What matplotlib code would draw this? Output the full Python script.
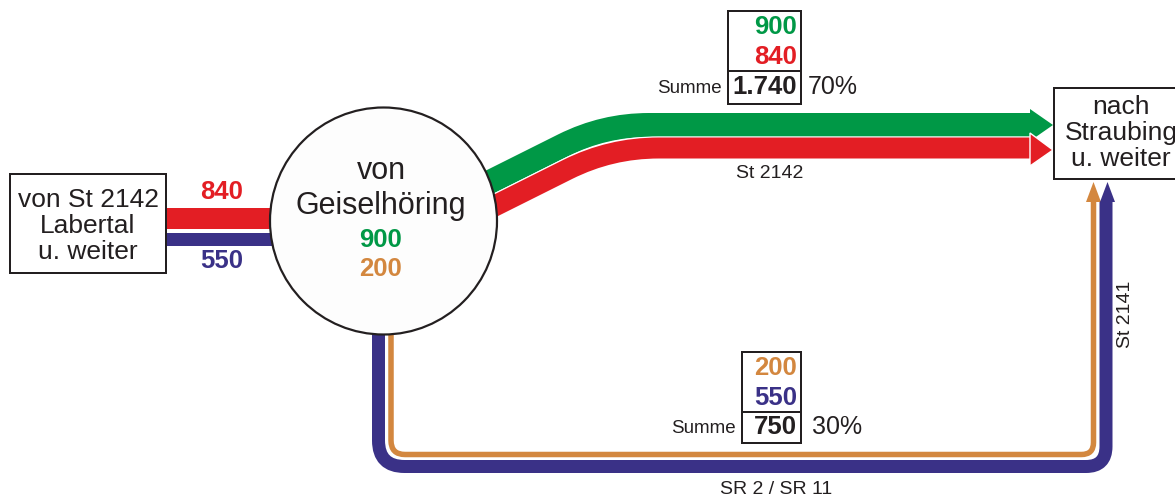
import matplotlib.pyplot as plt
import matplotlib
import numpy as np
from matplotlib.path import Path
from matplotlib.patches import PathPatch, Polygon, Rectangle, Circle
import matplotlib.patheffects as pe

matplotlib.rcParams['font.family'] = ['Liberation Sans', 'DejaVu Sans']

# traffic volumes
labertal_flows = [840, 550]        # red, blue  (von St 2142 Labertal)
geiselhoering_flows = [900, 200]   # green, orange (von Geiselhöring)
st2142_flows = [900, 840]          # green, red   -> St 2142
sr_flows = [200, 550]              # orange, blue -> SR 2 / SR 11
node_labels = ['von St 2142\nLabertal\nu. weiter', 'von', 'Geiselhöring', 'nach\nStraubing\nu. weiter']
road_labels = ['St 2142', 'SR 2 / SR 11', 'St 2141']

GREEN = '#009846'
RED = '#e31e24'
BLUE = '#3a3187'
ORANGE = '#d3873f'
INK = '#231f20'
PX = 72 / 100  # points per pixel at dpi 100


def fmt(v):
    return f'{v:,}'.replace(',', '.')


def rounded_path(points, radii):
    pts = [np.array(p, dtype=float) for p in points]
    verts, codes = [pts[0]], [Path.MOVETO]
    for i in range(1, len(pts) - 1):
        a, b, c = pts[i - 1], pts[i], pts[i + 1]
        da = (a - b) / np.hypot(*(a - b))
        dc = (c - b) / np.hypot(*(c - b))
        r = radii[i - 1]
        verts += [b + da * r, b, b + dc * r]
        codes += [Path.LINETO, Path.CURVE3, Path.CURVE3]
    verts.append(pts[-1])
    codes.append(Path.LINETO)
    return Path(verts, codes)


def band(ax, points, radii, width, color, z, gap=0):
    patch = PathPatch(rounded_path(points, radii), fill=False, edgecolor=color,
                      linewidth=width * PX, capstyle='butt', joinstyle='round', zorder=z)
    if gap:
        patch.set_path_effects([pe.Stroke(linewidth=(width + 2 * gap) * PX, foreground='white'), pe.Normal()])
    ax.add_patch(patch)


def head(ax, tip, base, half, color, z):
    tx, ty = tip
    bx, by = base
    if tx != bx:
        pts = [(bx, by - half), (tx, ty), (bx, by + half)]
    else:
        pts = [(bx - half, by), (tx, ty), (bx + half, by)]
    ax.add_patch(Polygon(pts, closed=True, facecolor=color, edgecolor='none', zorder=z))


fig = plt.figure(figsize=(11.75, 4.97), dpi=100)
ax = fig.add_axes([0, 0, 1, 1])
ax.set_xlim(0, 1175)
ax.set_ylim(497, 0)
ax.axis('off')

# left feeder bands
band(ax, [(160, 217.5), (310, 217.5)], [], 21, RED, 2)
band(ax, [(160, 238.5), (310, 238.5)], [], 13, BLUE, 2)

# St 2142 towards Straubing
band(ax, [(430, 211.9), (603.8, 125), (1031, 125)], [45], 24, GREEN, 2)
band(ax, [(430, 238.3), (610.6, 148), (1031, 148)], [48], 21, RED, 3, gap=1.2)
head(ax, (1053, 125), (1030, 125), 16, GREEN, 3)
ax.add_patch(Polygon([(1030, 133), (1053, 150), (1030, 166)], closed=True,
                     facecolor=RED, edgecolor='white', linewidth=1.0, zorder=4))

# SR 2 / SR 11 loop
band(ax, [(378.5, 300), (378.5, 466.5), (1106, 466.5), (1106, 201)], [26, 20], 13, BLUE, 2)
band(ax, [(391, 300), (391, 454.5), (1093.5, 454.5), (1093.5, 201)], [14, 12], 5.5, ORANGE, 2)
head(ax, (1093.5, 182), (1093.5, 202), 7.5, ORANGE, 3)
head(ax, (1107.5, 182), (1107.5, 202), 7.5, BLUE, 3)

# nodes
ax.add_patch(Rectangle((10, 174), 156, 99, facecolor='white', edgecolor=INK, linewidth=2 * PX, zorder=5))
ax.text(88, 226, node_labels[0], ha='center', va='center', fontsize=19, color=INK,
        linespacing=1.1, zorder=6)
ax.add_patch(Rectangle((1054, 88), 150, 91, facecolor='white', edgecolor=INK, linewidth=2 * PX, zorder=5))
ax.text(1121, 133, node_labels[3], ha='center', va='center', fontsize=19, color=INK,
        linespacing=1.08, zorder=6)
ax.add_patch(Circle((383.5, 221), 113.5, facecolor='#fdfdfd', edgecolor=INK, linewidth=2.2 * PX, zorder=5))
ax.text(381, 171, node_labels[1], ha='center', va='center', fontsize=22, color=INK, zorder=6)
ax.text(381, 206, node_labels[2], ha='center', va='center', fontsize=22, color=INK, zorder=6)
ax.text(380, 240, fmt(geiselhoering_flows[0]), ha='center', va='center', fontsize=18.5,
        fontweight='bold', color=GREEN, zorder=6)
ax.text(380, 269, fmt(geiselhoering_flows[1]), ha='center', va='center', fontsize=18.5,
        fontweight='bold', color=ORANGE, zorder=6)

# left flow numbers
ax.text(222, 192, fmt(labertal_flows[0]), ha='center', va='center', fontsize=18.5, fontweight='bold', color=RED)
ax.text(222, 261, fmt(labertal_flows[1]), ha='center', va='center', fontsize=18.5, fontweight='bold', color=BLUE)

total = sum(st2142_flows) + sum(sr_flows)


def summary(x0, x1, y_top, y_div, y_bot, flows, colors, pct_x):
    ax.add_patch(Rectangle((x0, y_top), x1 - x0, y_bot - y_top, fill=False, edgecolor=INK,
                           linewidth=2 * PX, zorder=5))
    ax.plot([x0, x1], [y_div, y_div], color=INK, linewidth=2 * PX, zorder=5)
    row_h = (y_div - y_top) / 2
    for k, (v, c) in enumerate(zip(flows, colors)):
        ax.text(x1 - 4, y_top + row_h * (k + 0.5) + 1, fmt(v), ha='right', va='center',
                fontsize=18.5, fontweight='bold', color=c, zorder=6)
    s = sum(flows)
    ym = (y_div + y_bot) / 2
    ax.text(x1 - 4, ym, fmt(s), ha='right', va='center', fontsize=18.5, fontweight='bold', color=INK, zorder=6)
    ax.text(x0 - 6, ym + 1, 'Summe', ha='right', va='center', fontsize=13.5, color=INK, zorder=6)
    ax.text(pct_x, ym, f'{round(100 * s / total)}%', ha='left', va='center', fontsize=18, color=INK, zorder=6)


summary(728, 801, 11, 71, 104, st2142_flows, [GREEN, RED], 808)
summary(742, 801, 352, 412, 443, sr_flows, [ORANGE, BLUE], 812)

# road names
ax.text(770, 173, road_labels[0], ha='center', va='center', fontsize=14, color=INK)
ax.text(776, 489, road_labels[1], ha='center', va='center', fontsize=14, color=INK)
ax.text(1125, 314, road_labels[2], ha='center', va='center', fontsize=14, color=INK, rotation=90)

fig.savefig('out.png', dpi=100)
